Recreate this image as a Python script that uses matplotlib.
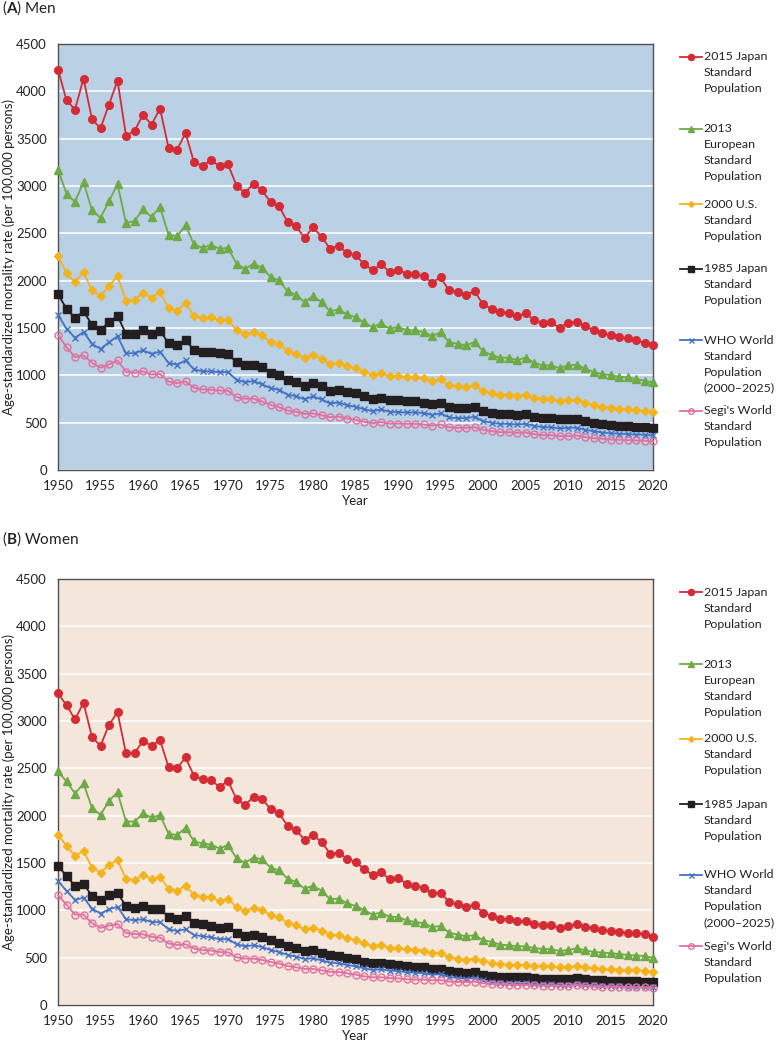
import numpy as np
import matplotlib
matplotlib.use("Agg")
import matplotlib.pyplot as plt

plt.rcParams['font.family'] = ['Lato', 'DejaVu Sans']
plt.rcParams['mathtext.fontset'] = 'custom'
plt.rcParams['mathtext.rm'] = 'Lato'
plt.rcParams['mathtext.bf'] = 'Lato:bold'

# data
years = list(range(1950, 2021))

men_jp2015 = [4230, 3906, 3807, 4135, 3705, 3610, 3860, 4114, 3532, 3581,
              3754, 3648, 3818, 3405, 3381, 3560, 3250, 3215, 3271, 3211,
              3229, 3004, 2926, 3025, 2954, 2831, 2789, 2620, 2574, 2454,
              2563, 2465, 2338, 2366, 2292, 2267, 2179, 2109, 2172, 2095,
              2116, 2074, 2066, 2049, 1978, 2035, 1897, 1880, 1848, 1890,
              1749, 1704, 1665, 1661, 1622, 1654, 1587, 1556, 1559, 1503,
              1556, 1559, 1517, 1478, 1443, 1422, 1400, 1390, 1369, 1344,
              1323]
men_eu2013 = [3173, 2919, 2831, 3042, 2743, 2665, 2838, 3021, 2609, 2630,
              2753, 2672, 2778, 2486, 2468, 2584, 2383, 2348, 2376, 2338,
              2345, 2179, 2123, 2179, 2137, 2038, 2003, 1887, 1852, 1774,
              1837, 1774, 1675, 1697, 1644, 1615, 1559, 1506, 1549, 1492,
              1510, 1478, 1475, 1457, 1415, 1453, 1351, 1333, 1316, 1351,
              1256, 1214, 1186, 1186, 1161, 1186, 1133, 1105, 1105, 1076,
              1105, 1112, 1073, 1034, 1013, 1002, 985, 978, 960, 943,
              925]
men_us2000 = [2260, 2080, 1985, 2091, 1897, 1837, 1943, 2049, 1788, 1799,
              1869, 1820, 1880, 1711, 1679, 1763, 1626, 1608, 1612, 1584,
              1587, 1478, 1432, 1457, 1422, 1351, 1327, 1256, 1228, 1179,
              1217, 1175, 1115, 1129, 1097, 1073, 1038, 1002, 1023, 988,
              996, 978, 978, 967, 939, 957, 893, 886, 875, 896,
              833, 809, 795, 795, 780, 795, 763, 753, 748, 727,
              735, 738, 710, 685, 664, 657, 647, 640, 632, 626,
              615]
men_jp1985 = [1855, 1704, 1605, 1675, 1535, 1482, 1559, 1630, 1436, 1432,
              1475, 1436, 1471, 1340, 1323, 1372, 1270, 1245, 1245, 1231,
              1228, 1136, 1105, 1112, 1087, 1023, 999, 946, 928, 890,
              914, 883, 837, 848, 826, 809, 777, 748, 763, 738,
              738, 727, 727, 713, 692, 706, 664, 653, 653, 668,
              622, 604, 590, 590, 583, 587, 562, 548, 548, 534,
              534, 537, 516, 499, 484, 474, 467, 463, 456, 449,
              442]
men_who = [1640, 1492, 1397, 1457, 1334, 1277, 1351, 1411, 1231, 1235,
           1263, 1228, 1249, 1133, 1112, 1157, 1062, 1044, 1041, 1034,
           1034, 953, 928, 939, 904, 865, 848, 795, 780, 748,
           777, 745, 703, 713, 685, 668, 643, 622, 640, 615,
           611, 608, 608, 601, 583, 597, 555, 548, 548, 562,
           516, 499, 488, 488, 481, 488, 467, 452, 452, 439,
           446, 446, 425, 410, 396, 389, 383, 378, 375, 372,
           365]
men_segi = [1425, 1298, 1192, 1210, 1133, 1080, 1115, 1157, 1038, 1027,
            1041, 1009, 1013, 935, 917, 935, 869, 851, 848, 840,
            837, 770, 753, 753, 724, 689, 664, 629, 615, 594,
            597, 579, 558, 565, 544, 530, 509, 495, 505, 491,
            491, 488, 488, 481, 470, 481, 452, 446, 446, 452,
            425, 410, 400, 400, 393, 396, 378, 368, 368, 357,
            357, 365, 347, 336, 330, 322, 319, 315, 312, 309,
            304]

wom_jp2015 = [3291, 3168, 3017, 3192, 2830, 2738, 2960, 3094, 2657, 2660,
              2790, 2738, 2798, 2516, 2499, 2615, 2421, 2386, 2375, 2304,
              2368, 2174, 2111, 2199, 2181, 2069, 2023, 1896, 1847, 1748,
              1794, 1723, 1600, 1607, 1547, 1508, 1441, 1371, 1403, 1329,
              1343, 1279, 1258, 1240, 1181, 1188, 1089, 1064, 1036, 1057,
              976, 941, 913, 906, 885, 888, 860, 846, 842, 814,
              835, 853, 829, 811, 793, 782, 772, 761, 758, 747,
              723]
wom_eu2013 = [2467, 2361, 2234, 2340, 2082, 2008, 2156, 2248, 1938, 1938,
              2023, 1981, 2005, 1811, 1794, 1871, 1730, 1706, 1695, 1653,
              1691, 1551, 1501, 1558, 1540, 1452, 1421, 1336, 1300, 1230,
              1258, 1209, 1117, 1125, 1075, 1047, 1004, 955, 977, 930,
              930, 895, 877, 864, 824, 835, 765, 744, 726, 737,
              687, 666, 638, 631, 620, 620, 602, 592, 589, 571,
              581, 599, 578, 560, 554, 546, 539, 529, 522, 518,
              497]
wom_us2000 = [1801, 1681, 1575, 1628, 1452, 1399, 1477, 1533, 1329, 1321,
              1371, 1336, 1353, 1230, 1209, 1258, 1163, 1142, 1138, 1099,
              1125, 1033, 994, 1025, 1004, 951, 927, 871, 842, 800,
              818, 786, 740, 740, 705, 687, 652, 620, 634, 602,
              600, 592, 586, 575, 546, 554, 504, 490, 480, 490,
              462, 444, 430, 427, 423, 423, 416, 409, 409, 398,
              402, 409, 398, 388, 381, 377, 374, 370, 367, 363,
              349]
wom_jp1985 = [1469, 1364, 1258, 1279, 1152, 1110, 1160, 1181, 1047, 1025,
              1047, 1015, 1019, 930, 913, 941, 871, 853, 839, 818,
              821, 758, 729, 740, 719, 687, 660, 624, 602, 571,
              581, 554, 525, 518, 497, 483, 459, 441, 448, 430,
              420, 410, 402, 397, 377, 384, 356, 345, 342, 349,
              321, 307, 300, 296, 293, 293, 282, 279, 279, 272,
              275, 289, 272, 264, 261, 258, 254, 250, 250, 247,
              240]
wom_who = [1311, 1205, 1110, 1135, 1019, 966, 1012, 1036, 906, 895,
           906, 877, 877, 800, 782, 800, 740, 726, 716, 694,
           698, 642, 620, 631, 613, 581, 560, 529, 512, 486,
           494, 472, 448, 441, 423, 409, 388, 370, 377, 363,
           359, 345, 342, 335, 321, 324, 296, 285, 279, 285,
           261, 243, 237, 233, 229, 229, 222, 219, 219, 216,
           216, 226, 216, 208, 205, 201, 198, 194, 194, 190,
           187]
wom_segi = [1160, 1061, 955, 955, 864, 814, 839, 856, 761, 750,
            747, 719, 712, 649, 634, 642, 596, 581, 575, 560,
            557, 504, 490, 490, 476, 455, 438, 412, 398, 381,
            381, 367, 349, 349, 335, 321, 303, 293, 293, 285,
            282, 272, 268, 268, 261, 264, 247, 243, 243, 247,
            229, 222, 219, 216, 212, 212, 208, 205, 205, 201,
            201, 212, 201, 198, 194, 194, 190, 190, 187, 187,
            184]

labels = ["2015 Japan\nStandard\nPopulation",
          "2013\nEuropean\nStandard\nPopulation",
          "2000 U.S.\nStandard\nPopulation",
          "1985 Japan\nStandard\nPopulation",
          "WHO World\nStandard\nPopulation\n(2000\u20132025)",
          "Segi's World\nStandard\nPopulation"]

styles = [dict(color='#D42B35', marker='o', ms=5.5),
          dict(color='#6EAA45', marker='^', ms=5.5),
          dict(color='#F2B31C', marker='D', ms=3.6),
          dict(color='#231F20', marker='s', ms=5.2),
          dict(color='#4472C4', marker='x', ms=4.5, mew=1.0),
          dict(color='#E0719F', marker='o', ms=5, mfc='none', mew=1.0)]

panels = [
    ("($\\mathbf{A}$) Men", '#B9D0E5',
     [men_jp2015, men_eu2013, men_us2000, men_jp1985, men_who, men_segi]),
    ("($\\mathbf{B}$) Women", '#F5E6DC',
     [wom_jp2015, wom_eu2013, wom_us2000, wom_jp1985, wom_who, wom_segi]),
]

W, H = 776, 1044
fig = plt.figure(figsize=(W / 100, H / 100), dpi=100)

ax_left, ax_w, ax_h = 58, 595, 426
tops = [44, 579]
title_y = [8, 539]
# first-line offset (px below plot top) of each legend entry
leg_off = [13, 85, 160, 225, 296, 367]
line_gap = 16
fs = 9.5
txt = '#222222'

for (title, bg, series), top, ty in zip(panels, tops, title_y):
    ax = fig.add_axes([ax_left / W, 1 - (top + ax_h) / H, ax_w / W, ax_h / H])
    ax.set_facecolor(bg)
    for vals, st in zip(series, styles):
        ax.plot(years, vals, lw=1.3, clip_on=False, zorder=3, **st)
    ax.set_xlim(1950, 2020)
    ax.set_ylim(0, 4500)
    ax.set_xticks(range(1950, 2021, 5))
    ax.set_yticks(range(0, 4501, 500))
    ax.grid(axis='y', color='white', lw=1.1)
    ax.set_axisbelow(True)
    ax.tick_params(length=0, labelsize=fs, colors=txt)
    ax.tick_params(axis='x', pad=7.5)
    ax.tick_params(axis='y', pad=8)
    for sp in ax.spines.values():
        sp.set_color('#505050')
        sp.set_linewidth(1.0)
    ax.set_xlabel("Year", fontsize=fs, labelpad=2, color=txt)
    ax.set_ylabel("Age-standardized mortality rate (per 100,000 persons)",
                  fontsize=fs, color=txt)
    ax.yaxis.set_label_coords(-0.073, 0.5)
    fig.text(2 / W, 1 - ty / H, title, fontsize=11, va='center', ha='left',
             color=txt)

    # legend drawn beside the plot, handle aligned with first text line
    for lab, st, off in zip(labels, styles, leg_off):
        yf = 1 - off / ax_h
        ax.plot([1.046, 1.083], [yf, yf], transform=ax.transAxes,
                clip_on=False, lw=1.3, color=st['color'])
        mk = dict(st)
        mk['ms'] = mk['ms'] * 0.8
        ax.plot([1.0645], [yf], transform=ax.transAxes, clip_on=False,
                ls='none', **mk)
        for i, line in enumerate(lab.split("\n")):
            ax.text(1.085, 1 - (off + i * line_gap) / ax_h, line,
                    transform=ax.transAxes, fontsize=8.9, va='center',
                    ha='left', color=txt)

fig.savefig("out.png", dpi=100)
